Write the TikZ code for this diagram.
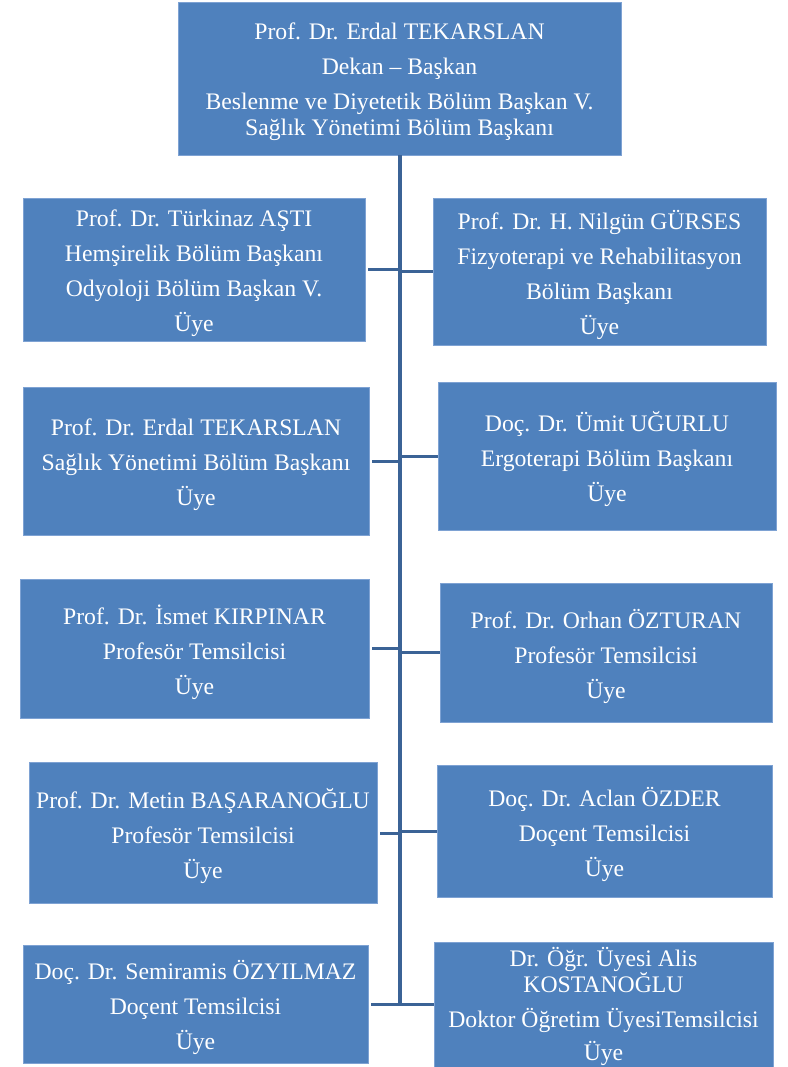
\documentclass[tikz,border=0pt]{standalone}
\usepackage{fontspec}
\setmainfont{Liberation Serif}
\definecolor{boxblue}{HTML}{4F81BD}
\definecolor{boxedge}{HTML}{7EA2D3}
\definecolor{spineblue}{HTML}{3B6396}

\begin{document}
\begin{tikzpicture}[x=1pt,y=-1pt,
  member/.style={draw=boxedge,line width=0.8pt,fill=boxblue,inner sep=0pt},
  memtext/.style={text=white,align=center,inner sep=0pt,yshift=-3.5pt,
    font=\fontsize{23.7}{26}\selectfont},
  link/.style={draw=spineblue,line width=3pt}]
  \useasboundingbox (0,0) rectangle (787,1067);
  % dean
  \node[member,minimum width=443,minimum height=153,
    label={[memtext]center:{Prof. Dr. Erdal TEKARSLAN\\[9pt] Dekan -- Başkan\\[9pt]
     Beslenme ve Diyetetik Bölüm Başkan V.\\ Sağlık Yönetimi Bölüm Başkanı}}]
    (dean) at (399.5,78.5) {};
  % left column
  \node[member,minimum width=342,minimum height=143,
    label={[memtext]center:{Prof. Dr. Türkinaz AŞTI\\[9pt] Hemşirelik Bölüm Başkanı\\[9pt]
     Odyoloji Bölüm Başkan V.\\[9pt] Üye}}] (r1l) at (194,269.5) {};
  \node[member,minimum width=346,minimum height=148,
    label={[memtext]center:{Prof. Dr. Erdal TEKARSLAN\\[9pt] Sağlık Yönetimi Bölüm Başkanı\\[9pt] Üye}}]
    (r2l) at (196,461) {};
  \node[member,minimum width=349,minimum height=139,
    label={[memtext]center:{Prof. Dr. İsmet KIRPINAR\\[9pt] Profesör Temsilcisi\\[9pt] Üye}}]
    (r3l) at (194.5,648.5) {};
  \node[member,minimum width=348,minimum height=141,
    label={[memtext]center:{Prof. Dr. Metin BAŞARANOĞLU\\[9pt] Profesör Temsilcisi\\[9pt] Üye}}]
    (r4l) at (203,833) {};
  \node[member,minimum width=345,minimum height=118,
    label={[memtext]center:{Doç. Dr. Semiramis ÖZYILMAZ\\[9pt] Doçent Temsilcisi\\[9pt] Üye}}]
    (r5l) at (195.5,1004) {};
  % right column
  \node[member,minimum width=333,minimum height=147,
    label={[memtext]center:{Prof. Dr. H. Nilgün GÜRSES\\[9pt] Fizyoterapi ve Rehabilitasyon\\[9pt]
     Bölüm Başkanı\\[9pt] Üye}}] (r1r) at (599.5,271.5) {};
  \node[member,minimum width=338,minimum height=148,
    label={[memtext]center:{Doç. Dr. Ümit UĞURLU\\[9pt] Ergoterapi Bölüm Başkanı\\[9pt] Üye}}]
    (r2r) at (607,456) {};
  \node[member,minimum width=332,minimum height=139,
    label={[memtext]center:{Prof. Dr. Orhan ÖZTURAN\\[9pt] Profesör Temsilcisi\\[9pt] Üye}}]
    (r3r) at (606,652.5) {};
  \node[member,minimum width=335,minimum height=132,
    label={[memtext]center:{Doç. Dr. Aclan ÖZDER\\[9pt] Doçent Temsilcisi\\[9pt] Üye}}]
    (r4r) at (604.5,831) {};
  \node[member,minimum width=339,minimum height=125,
    label={[memtext,yshift=1.5pt]center:{Dr. Öğr. Üyesi Alis\\ KOSTANOĞLU\\[9pt]
     Doktor Öğretim ÜyesiTemsilcisi\\[7pt] Üye}}] (r5r) at (603.5,1004.5) {};
  % spine and branches
  \draw[link,line width=4pt] (dean.south) -- (r5l.east -| dean.south);
  \foreach \b in {r1l,r2l,r3l,r4l,r5l}
    \draw[link,shorten <=3pt] (\b.east) -- (\b.east -| dean.south);
  \foreach \b in {r1r,r2r,r3r,r4r,r5r}
    \draw[link] (\b.west) -- (\b.west -| dean.south);
\end{tikzpicture}
\end{document}
